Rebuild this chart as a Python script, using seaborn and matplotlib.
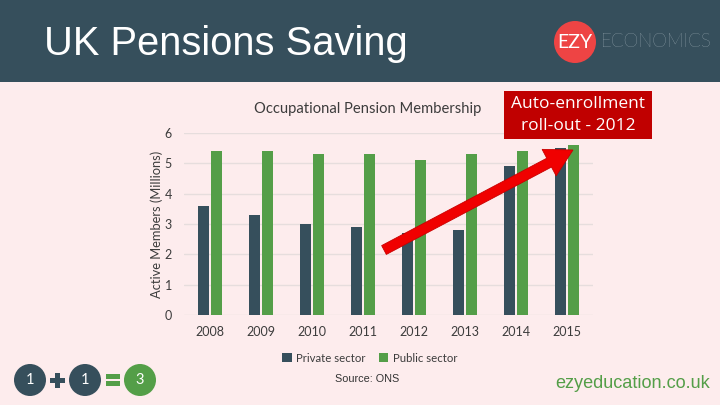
import pandas as pd
import matplotlib
matplotlib.use('Agg')
import matplotlib.pyplot as plt
import seaborn as sns
from matplotlib.patches import Rectangle, Circle, FancyArrow

# Chart values
years = ['2008', '2009', '2010', '2011', '2012', '2013', '2014', '2015']
private_sector = [3.6, 3.3, 3.0, 2.9, 2.7, 2.8, 4.9, 5.5]
public_sector = [5.4, 5.4, 5.3, 5.3, 5.1, 5.3, 5.4, 5.6]
y_ticks = [0, 1, 2, 3, 4, 5, 6]

slate = '#364f5c'
green = '#549e48'
page = '#fdeced'
text_grey = '#3c3c3c'

data = pd.DataFrame({'year': years, 'Private sector': private_sector, 'Public sector': public_sector})
data_long = data.melt(id_vars='year', var_name='sector', value_name='members')

sns.set_style('white')
plt.rcParams['font.family'] = ['Lato', 'DejaVu Sans']

fig = plt.figure(figsize=(7.2, 4.05), dpi=100, facecolor=page)
ax = fig.add_axes([184.5 / 720, 90 / 405, 408 / 720, 182 / 405], facecolor='none')

sns.barplot(data=data_long, x='year', y='members', hue='sector', ax=ax,
            palette=[slate, green], width=0.52, gap=0.12, saturation=1, legend=True, linewidth=0)

ax.set_xlim(-0.5, 7.5)
ax.set_ylim(0, 6)
ax.set_yticks(y_ticks)
ax.grid(axis='y', color='#e6dddd', lw=1)
ax.set_axisbelow(True)
sns.despine(ax=ax, left=True, bottom=True, top=True, right=True)
ax.tick_params(axis='both', length=0, labelsize=9, labelcolor=text_grey)
ax.tick_params(axis='x', pad=8)
ax.tick_params(axis='y', pad=9)
ax.set_xlabel('')
ax.set_ylabel('Active Members (Millions)', fontsize=9.3, color=text_grey, labelpad=1)
fig.text(367.5 / 720, 1 - 109.5 / 405, 'Occupational Pension Membership', fontsize=10.6,
         color=text_grey, ha='center', va='center')
ax.legend(loc='center', bbox_to_anchor=(370 / 720, 1 - 358 / 405), bbox_transform=fig.transFigure,
          ncol=2, frameon=False, fontsize=8.2, labelcolor=text_grey, handlelength=0.8,
          handleheight=0.8, handletextpad=0.4, columnspacing=1.2)

# Slide furniture, in pixel coordinates
deco = fig.add_axes([0, 0, 1, 1], facecolor='none')
deco.set_xlim(0, 720)
deco.set_ylim(405, 0)
deco.axis('off')

deco.add_patch(Rectangle((0, 0), 720, 82, color=slate, lw=0))
deco.text(44, 44, 'UK Pensions Saving', family='Liberation Sans', fontsize=28.7, color='white', va='center')

deco.add_patch(Circle((575, 42), 21, color='#ee4444', lw=0))
deco.text(575, 42, 'EZY', fontsize=14, color='white', ha='center', va='center')
deco.text(601, 42, 'ECONOMICS', fontsize=13.5, color='#c6d2d8', va='center', fontweight='light')

deco.add_patch(Rectangle((504, 91), 148, 48, color='#c00000', lw=0))
deco.text(578, 115, 'Auto-enrollment\nroll-out - 2012', family='Open Sans', fontsize=12.5,
          color='white', ha='center', va='center', linespacing=1.55)

deco.add_patch(FancyArrow(384, 250, 189, -100, width=10, head_width=30, head_length=27,
                          length_includes_head=True, facecolor='#f00000', edgecolor='#c80000', lw=0.6))

for cx, label, colour in [(30, '1', slate), (85, '1', slate), (140, '3', green)]:
    deco.add_patch(Circle((cx, 380), 16, color=colour, lw=0))
    deco.text(cx, 380, label, fontsize=10.5, color='white', ha='center', va='center')
deco.add_patch(Rectangle((50, 377.5), 15, 5, color=slate, lw=0))
deco.add_patch(Rectangle((55, 372.5), 5, 15, color=slate, lw=0))
deco.add_patch(Rectangle((106, 374), 14, 5, color=green, lw=0))
deco.add_patch(Rectangle((106, 381), 14, 5, color=green, lw=0))

deco.text(367, 379, 'Source: ONS', family='Liberation Sans', fontsize=7.8, color='#333333', ha='center', va='center')
deco.text(710, 383, 'ezyeducation.co.uk', family='Liberation Sans', fontsize=13.1, color=green, ha='right', va='center')

fig.savefig('out.png', dpi=100, facecolor=page)
